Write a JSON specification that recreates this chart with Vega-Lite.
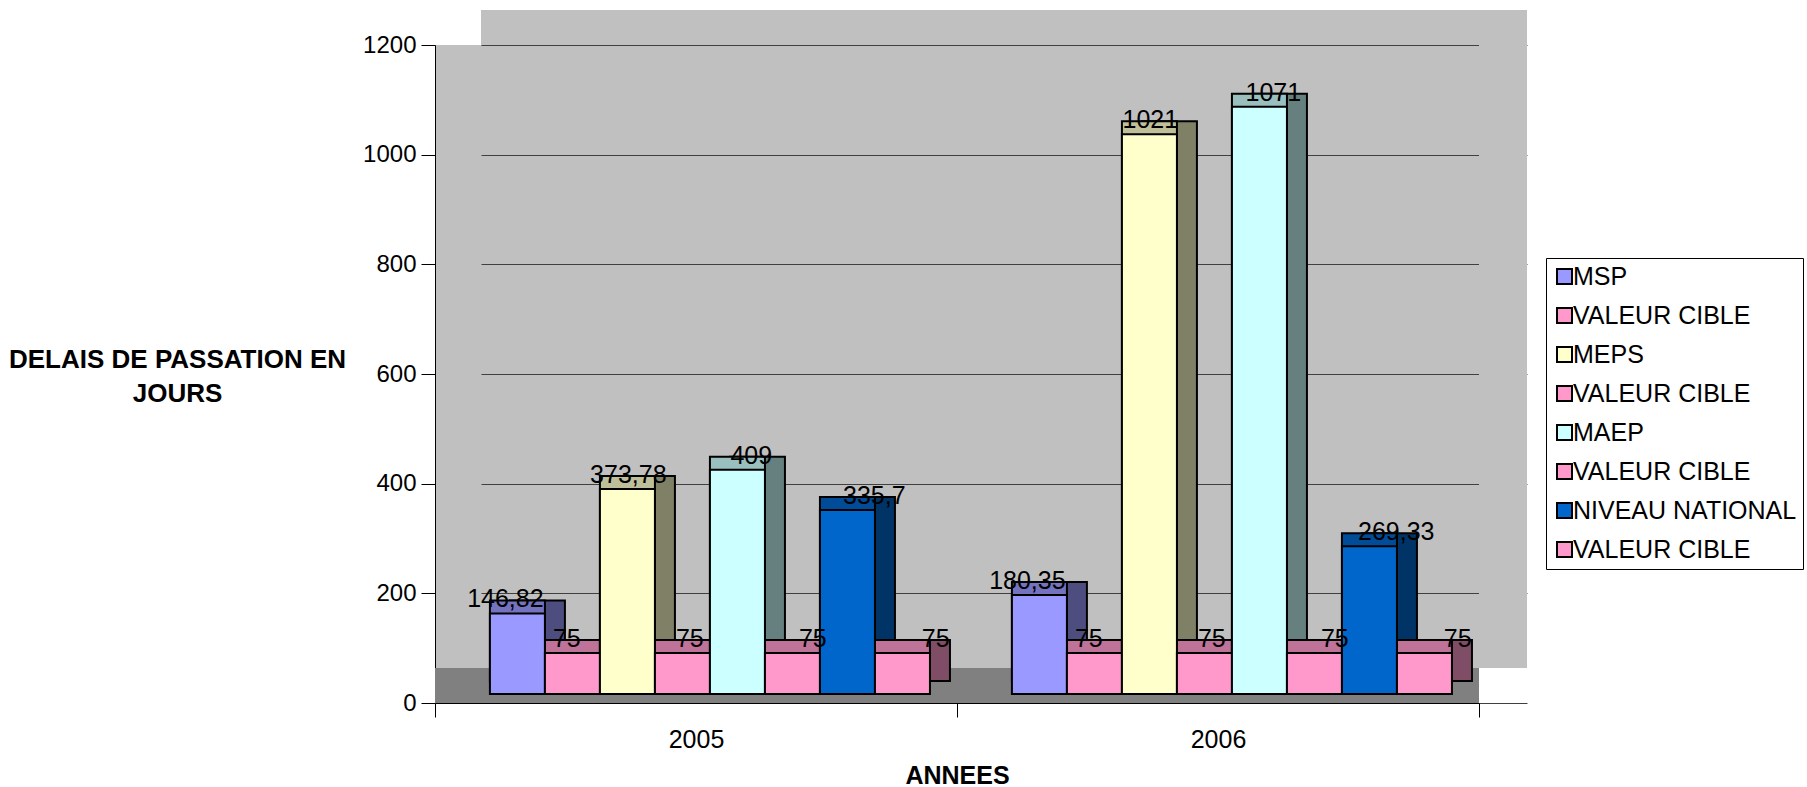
{
  "$schema": "https://vega.github.io/schema/vega-lite/v6.json",
  "width": 1044,
  "height": 658,
  "autosize": {"type": "none"},
  "padding": {"left": 435, "top": 45, "right": 328, "bottom": 84},
  "background": "white",
  "config": {
    "font": "Liberation Sans",
    "view": {"fill": "#C0C0C0", "stroke": null},
    "locale": {"number": {"decimal": ",", "thousands": " ", "grouping": [3], "currency": ["", " €"]}}
  },
  "data": {
    "values": [
      {"annee": "2005", "serie": "MSP", "valeur": 146.82},
      {"annee": "2005", "serie": "VALEUR CIBLE 1", "valeur": 75},
      {"annee": "2005", "serie": "MEPS", "valeur": 373.78},
      {"annee": "2005", "serie": "VALEUR CIBLE 2", "valeur": 75},
      {"annee": "2005", "serie": "MAEP", "valeur": 409},
      {"annee": "2005", "serie": "VALEUR CIBLE 3", "valeur": 75},
      {"annee": "2005", "serie": "NIVEAU NATIONAL", "valeur": 335.7},
      {"annee": "2005", "serie": "VALEUR CIBLE 4", "valeur": 75},
      {"annee": "2006", "serie": "MSP", "valeur": 180.35},
      {"annee": "2006", "serie": "VALEUR CIBLE 1", "valeur": 75},
      {"annee": "2006", "serie": "MEPS", "valeur": 1021},
      {"annee": "2006", "serie": "VALEUR CIBLE 2", "valeur": 75},
      {"annee": "2006", "serie": "MAEP", "valeur": 1071},
      {"annee": "2006", "serie": "VALEUR CIBLE 3", "valeur": 75},
      {"annee": "2006", "serie": "NIVEAU NATIONAL", "valeur": 269.33},
      {"annee": "2006", "serie": "VALEUR CIBLE 4", "valeur": 75}
    ]
  },
  "layer": [
    {
      "mark": {"type": "rect", "fill": "#C0C0C0", "yOffset": -35, "y2Offset": 0},
      "encoding": {
        "x": {"field": "annee", "type": "nominal", "scale": {"range": [46, 1092], "paddingInner": 0, "paddingOuter": 0}, "axis": null},
        "y": {"datum": 1200, "type": "quantitative"},
        "y2": {"datum": 1200}
      }
    },
    {
      "mark": {"type": "rect", "fill": "#C0C0C0", "yOffset": -35, "y2Offset": -35},
      "encoding": {
        "x": {"field": "annee", "type": "nominal", "scale": {"range": [1044, 1092], "paddingInner": 0, "paddingOuter": 0}, "axis": null},
        "y": {"datum": 0, "type": "quantitative"},
        "y2": {"datum": 1200}
      }
    },
    {
      "mark": {"type": "rect", "fill": "#808080"},
      "encoding": {
        "y": {
          "datum": 0, "type": "quantitative", "scale": {"domain": [0, 1200], "nice": false},
          "axis": {
            "title": ["DELAIS DE PASSATION EN", "JOURS"], "titleAngle": 0, "titleAlign": "center", "titleBaseline": "alphabetic",
            "titleX": -258, "titleY": 322, "titleFontSize": 26, "titleFontWeight": "bold", "titleLineHeight": 34, "titleColor": "black",
            "values": [0, 200, 400, 600, 800, 1000, 1200], "format": "d",
            "labelFontSize": 24, "labelColor": "black", "labelPadding": 5, "tickSize": 14, "tickColor": "black",
            "domainColor": "black", "grid": true, "gridColor": "#404040", "gridWidth": 1
          }
        },
        "y2": {"datum": 64}
      }
    },
    {
      "mark": {"type": "bar", "stroke": "black", "strokeWidth": 2, "yOffset": -22, "y2Offset": -22},
      "encoding": {
        "x": {"field": "annee", "type": "nominal", "scale": {"range": [20, 1064], "paddingInner": 0, "paddingOuter": 0}, "axis": null},
        "xOffset": {"field": "serie", "type": "nominal", "scale": {"domain": ["MSP", "VALEUR CIBLE 1", "MEPS", "VALEUR CIBLE 2", "MAEP", "VALEUR CIBLE 3", "NIVEAU NATIONAL", "VALEUR CIBLE 4"], "paddingInner": 0, "paddingOuter": 0.745, "align": 0.67}},
        "y": {"field": "valeur", "type": "quantitative"},
        "color": {"field": "serie", "type": "nominal", "legend": null, "scale": {"domain": ["MSP", "VALEUR CIBLE 1", "MEPS", "VALEUR CIBLE 2", "MAEP", "VALEUR CIBLE 3", "NIVEAU NATIONAL", "VALEUR CIBLE 4"], "range": ["#4d4d80", "#804d66", "#808066", "#804d66", "#668080", "#804d66", "#003366", "#804d66"]}}
      }
    },
    {
      "mark": {"type": "bar", "stroke": "black", "strokeWidth": 2, "yOffset": -22, "y2Offset": -22},
      "encoding": {
        "x": {"field": "annee", "type": "nominal", "scale": {"paddingInner": 0, "paddingOuter": 0}, "axis": null},
        "xOffset": {"field": "serie", "type": "nominal", "scale": {"domain": ["MSP", "VALEUR CIBLE 1", "MEPS", "VALEUR CIBLE 2", "MAEP", "VALEUR CIBLE 3", "NIVEAU NATIONAL", "VALEUR CIBLE 4"], "paddingInner": 0, "paddingOuter": 0.745, "align": 0.67}},
        "y": {"field": "valeur", "type": "quantitative"},
        "color": {"field": "serie", "type": "nominal", "legend": null, "scale": {"domain": ["MSP", "VALEUR CIBLE 1", "MEPS", "VALEUR CIBLE 2", "MAEP", "VALEUR CIBLE 3", "NIVEAU NATIONAL", "VALEUR CIBLE 4"], "range": ["#7373bf", "#bf7399", "#bfbf99", "#bf7399", "#99bfbf", "#bf7399", "#004c99", "#bf7399"]}}
      }
    },
    {
      "mark": {"type": "bar", "stroke": "black", "strokeWidth": 2, "yOffset": -9, "y2Offset": -9},
      "encoding": {
        "x": {
          "field": "annee", "type": "nominal",
          "scale": {"paddingInner": 0, "paddingOuter": 0},
          "axis": {
            "title": "ANNEES", "titleFontSize": 25, "titleFontWeight": "bold", "titleColor": "black",
            "titleY": 80, "titleBaseline": "alphabetic",
            "labelAngle": 0, "labelFontSize": 25, "labelColor": "black", "labelBaseline": "alphabetic", "labelPadding": 30,
            "tickBand": "extent", "tickSize": 14, "tickColor": "black", "domainColor": "black", "grid": false
          }
        },
        "xOffset": {"field": "serie", "type": "nominal", "scale": {"domain": ["MSP", "VALEUR CIBLE 1", "MEPS", "VALEUR CIBLE 2", "MAEP", "VALEUR CIBLE 3", "NIVEAU NATIONAL", "VALEUR CIBLE 4"], "paddingInner": 0, "paddingOuter": 0.745, "align": 0.67}},
        "y": {"field": "valeur", "type": "quantitative"},
        "color": {
          "field": "serie", "type": "nominal",
          "scale": {"domain": ["MSP", "VALEUR CIBLE 1", "MEPS", "VALEUR CIBLE 2", "MAEP", "VALEUR CIBLE 3", "NIVEAU NATIONAL", "VALEUR CIBLE 4"], "range": ["#9999FF", "#FF99CC", "#FFFFCC", "#FF99CC", "#CCFFFF", "#FF99CC", "#0066CC", "#FF99CC"]},
          "legend": {
            "title": null, "orient": "none", "legendX": 1111, "legendY": 213,
            "strokeColor": "black", "padding": 6, "labelFontSize": 25, "labelColor": "black", "labelOffset": -4,
            "symbolType": "square", "symbolSize": 225, "symbolStrokeColor": "black", "symbolStrokeWidth": 2,
            "rowPadding": 13, "labelLimit": 400,
            "labelExpr": "replace(datum.label, regexp(' [0-9]$'), '')"
          }
        }
      }
    },
    {
      "mark": {"type": "text", "fontSize": 25, "baseline": "alphabetic", "align": "center", "color": "black", "dy": -15},
      "encoding": {
        "x": {"field": "annee", "type": "nominal", "scale": {"range": [9, 1053], "paddingInner": 0, "paddingOuter": 0}, "axis": null},
        "xOffset": {"field": "serie", "type": "nominal", "scale": {"domain": ["MSP", "VALEUR CIBLE 1", "MEPS", "VALEUR CIBLE 2", "MAEP", "VALEUR CIBLE 3", "NIVEAU NATIONAL", "VALEUR CIBLE 4"], "paddingInner": 0, "paddingOuter": 0.745, "align": 0.67}},
        "y": {"field": "valeur", "type": "quantitative"},
        "text": {"field": "valeur", "type": "quantitative", "format": "~f"}
      }
    }
  ],
  "resolve": {"scale": {"x": "independent", "xOffset": "independent", "color": "independent"}}
}
